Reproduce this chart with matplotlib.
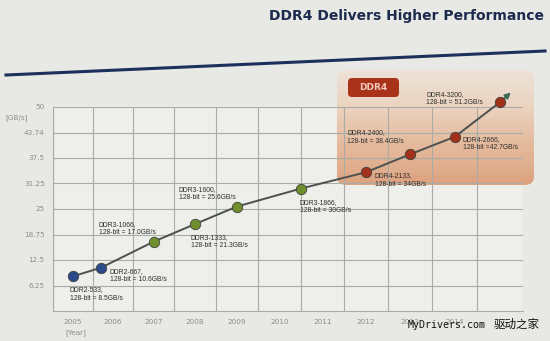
import matplotlib
matplotlib.use("Agg")
import matplotlib.pyplot as plt
from matplotlib.patches import FancyBboxPatch, Rectangle
from matplotlib.lines import Line2D
from matplotlib.colors import LinearSegmentedColormap
import numpy as np

# ---- data ----
modules = ["DDR2-533", "DDR2-667", "DDR3-1066", "DDR3-1333", "DDR3-1600",
           "DDR3-1866", "DDR4-2133", "DDR4-2400", "DDR4-2666", "DDR4-3200"]
years = [2005, 2005.7, 2007, 2008, 2009, 2010.5, 2012, 2013, 2014, 2015]
bandwidth = [8.5, 10.6, 17.0, 21.3, 25.6, 30.0, 34.0, 38.4, 42.7, 51.2]
bw_text = ["128-bit = 8.5GB/s", "128-bit = 10.6GB/s", "128-bit = 17.0GB/s",
           "128-bit = 21.3GB/s", "128-bit = 25.6GB/s", "128-bit = 30GB/s",
           "128-bit = 34GB/s", "128-bit = 38.4GB/s", "128-bit =42.7GB/s",
           "128-bit = 51.2GB/s"]
generation = ["DDR2", "DDR2", "DDR3", "DDR3", "DDR3", "DDR3",
              "DDR4", "DDR4", "DDR4", "DDR4"]
y_ticks = [6.25, 12.5, 18.75, 25, 31.25, 37.5, 43.74, 50]
y_tick_labels = ["6.25", "12.5", "18.75", "25", "31.25", "37.5", "43.74", "50"]
x_ticks = [2005, 2006, 2007, 2008, 2009, 2010, 2011, 2012, 2013, 2014]

# ---- styles ----
gen_colors = {"DDR2": "#2b4a8c", "DDR3": "#6e8f2c", "DDR4": "#a3301a"}
label_offsets = [(-3, -10), (9, 0), (-55, 21), (-4, -10), (-58, 21),
                 (-1, -10), (9, 0), (-63, 25), (8, 1), (-74, 11)]
X0, K = 2004.5, 0.00728   # slight perspective widening of the year columns


def fwd(x):
    u = np.asarray(x, dtype=float) - X0
    return u + K * u * u


def inv(v):
    v = np.asarray(v, dtype=float)
    return X0 + (-1 + np.sqrt(np.maximum(1 + 4 * K * v, 0))) / (2 * K)


W, H = 550, 341
fig = plt.figure(figsize=(W / 100, H / 100), dpi=100)
fig.patch.set_facecolor("#e8e9e4")

ax = fig.add_axes([53 / W, 1 - 311 / H, (523 - 53) / W, (311 - 107) / H])
ax.set_facecolor("#eeeeea")
ax.set_xscale("function", functions=(fwd, inv))
ax.set_xlim(2004.5, 2015.5)
ax.set_ylim(0, 50)

# grid
ax.set_xticks(np.arange(2004.5, 2015.6, 1.0), minor=True)
ax.set_xticks(x_ticks)
ax.set_xticklabels([str(x) for x in x_ticks])
ax.set_xticklabels([], minor=True)
ax.set_yticks(y_ticks)
ax.set_yticklabels(y_tick_labels)
ax.grid(True, which="minor", axis="x", color="#a9aba7", lw=0.8, zorder=0)
ax.grid(False, which="major", axis="x")
ax.grid(True, which="major", axis="y", color="#a9aba7", lw=0.8, zorder=0)
ax.tick_params(which="both", length=0)
ax.tick_params(axis="y", labelsize=5.2, labelcolor="#8a8c88", pad=6)
ax.tick_params(axis="x", labelsize=5.2, labelcolor="#8a8c88", pad=6)
for s in ["top", "right"]:
    ax.spines[s].set_visible(False)
for s in ["left", "bottom"]:
    ax.spines[s].set_color("#a9aba7")
    ax.spines[s].set_linewidth(0.8)
ax.set_axisbelow(True)

# DDR4 highlight box (pixel coordinates, vertical gradient fill, under the grid)
bx0, bx1, by_top, by_bot = 337, 534, 70, 185
box = FancyBboxPatch((bx0, H - by_bot), bx1 - bx0, by_bot - by_top,
                     boxstyle="round,pad=0,rounding_size=9",
                     transform=None, facecolor="none", edgecolor="none")
cmap = LinearSegmentedColormap.from_list(
    "peach", ["#eee2d6", "#ebd1bd", "#e3b391", "#dc9f7a"])
n_strips = 58
edges = np.linspace(by_top, by_bot, n_strips + 1)
for i in range(n_strips):
    r = Rectangle((bx0, H - edges[i + 1]), bx1 - bx0, edges[i + 1] - edges[i] + 0.6,
                  transform=None, facecolor=cmap(i / (n_strips - 1)),
                  edgecolor="none", alpha=0.9, zorder=0.3)
    r.set_clip_path(box)
    ax.add_patch(r)

badge = FancyBboxPatch((348, H - 97), 51, 19,
                       boxstyle="round,pad=0,rounding_size=4",
                       transform=None, facecolor="#a8321a", edgecolor="none",
                       zorder=3, clip_on=False)
ax.add_patch(badge)
ax.text(373.5 / W, 1 - 87.5 / H, "DDR4", color="#f3c9bd", fontsize=6.5,
        fontweight="bold", ha="center", va="center", zorder=3.5,
        transform=fig.transFigure)

# line + arrow
ax.plot(years, bandwidth, color="#4b5150", lw=1.4, zorder=4, clip_on=False)
ax.annotate("", xy=(years[-1] + 0.28, bandwidth[-1] + 2.8),
            xytext=(years[-1], bandwidth[-1]),
            arrowprops=dict(arrowstyle="-|>", color="#3d6b55", lw=1.4,
                            mutation_scale=8), zorder=4, annotation_clip=False)
for x, y, g in zip(years, bandwidth, generation):
    ax.plot(x, y, "o", ms=7.5, color=gen_colors[g], mec="#3d4240", mew=0.6,
            zorder=5, clip_on=False)

for x, y, m, t, (dx, dy) in zip(years, bandwidth, modules, bw_text, label_offsets):
    ax.annotate(f"{m},\n{t}", xy=(x, y), xytext=(dx, dy),
                textcoords="offset pixels", ha="left", va="top",
                fontsize=4.9, family="Liberation Sans", color="#2e302e",
                linespacing=1.25, zorder=6, annotation_clip=False)

# axis unit labels
fig.text(5 / W, 1 - 118 / H, "[GB/s]", fontsize=5.2, color="#8a8c88",
         ha="left", va="center")
fig.text(65 / W, 1 - 333 / H, "[Year]", fontsize=5.2, color="#8a8c88",
         ha="left", va="center")

# title and rule
fig.text(544 / W, 1 - 16 / H, "DDR4 Delivers Higher Performance",
         fontsize=10, fontweight="bold", color="#1d2a4f",
         ha="right", va="center")
fig.lines.append(Line2D([6 / W, 545 / W], [1 - 75 / H, 1 - 51 / H],
                        transform=fig.transFigure, color="#1d2f5c", lw=2.2))

# watermark
fig.text(408 / W, 1 - 328 / H, "MyDrivers.com", fontsize=7.2,
         family="DejaVu Sans Mono", color="#111111",
         ha="left", va="baseline")
fig.text(540 / W, 1 - 328 / H, "驱动之家", fontsize=8.3,
         family="Noto Sans CJK SC", color="#111111",
         ha="right", va="baseline")

fig.savefig("out.png", dpi=100, facecolor=fig.get_facecolor())
